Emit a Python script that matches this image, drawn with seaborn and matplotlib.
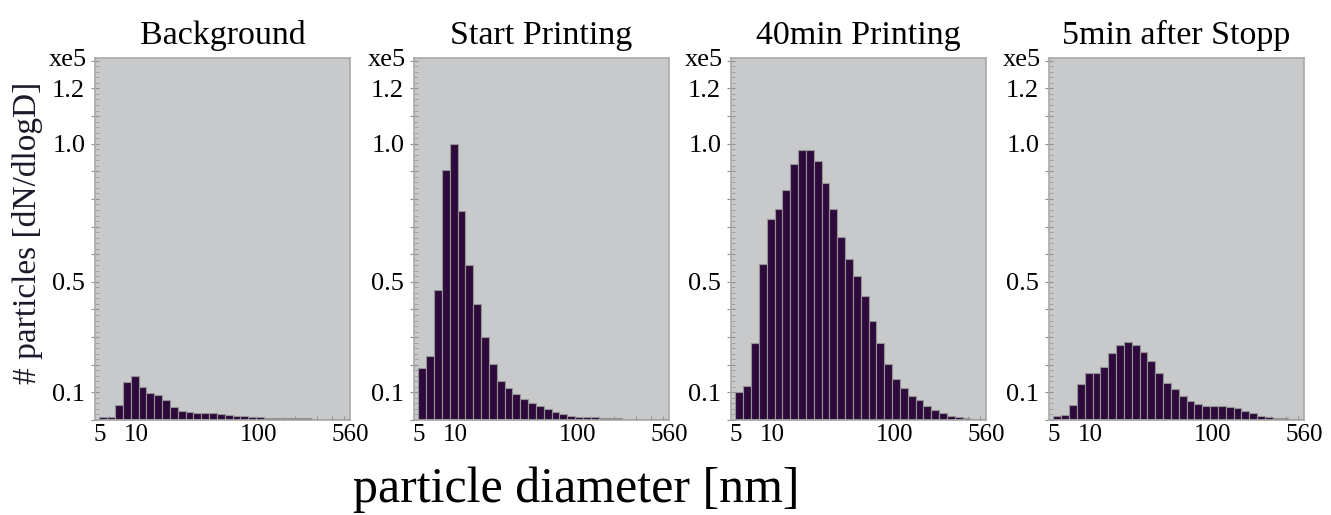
import numpy as np
import matplotlib
matplotlib.use("Agg")
import matplotlib.pyplot as plt
from matplotlib.ticker import FixedLocator, MultipleLocator, FuncFormatter
import seaborn as sns

""" Data read off the SMPS size distributions (x 1e5 particles) """

titles = ["Background", "Start Printing", "40min Printing", "5min after Stopp"]

# 32 log-spaced size channels between 5 and 560 nm
d_low, d_high, n_bins = 5, 560, 32
edges = np.geomspace(d_low, d_high, n_bins + 1)
diameters = np.sqrt(edges[:-1] * edges[1:])  # channel mid points

background = [0.010, 0.012, 0.054, 0.137, 0.159, 0.121, 0.097, 0.089, 0.072, 0.047,
              0.034, 0.029, 0.027, 0.027, 0.026, 0.021, 0.018, 0.014, 0.013, 0.011,
              0.010, 0.009, 0.008, 0.008, 0.007, 0.006, 0.006, 0.005, 0.005, 0.004,
              0.004, 0.004]
start_printing = [0.187, 0.233, 0.472, 0.904, 1.000, 0.755, 0.560, 0.419, 0.299, 0.202,
                  0.142, 0.117, 0.093, 0.075, 0.060, 0.051, 0.040, 0.030, 0.022, 0.016,
                  0.012, 0.010, 0.010, 0.008, 0.007, 0.006, 0.005, 0.005, 0.004, 0.004,
                  0.003, 0.003]
printing_40min = [0.100, 0.124, 0.280, 0.566, 0.727, 0.765, 0.834, 0.928, 0.976, 0.976,
                  0.937, 0.858, 0.765, 0.663, 0.581, 0.520, 0.449, 0.359, 0.280, 0.201,
                  0.148, 0.117, 0.088, 0.072, 0.052, 0.036, 0.024, 0.016, 0.010, 0.006,
                  0.005, 0.004]
after_stop = [0.016, 0.017, 0.054, 0.130, 0.169, 0.169, 0.193, 0.241, 0.271, 0.281,
              0.273, 0.247, 0.213, 0.169, 0.135, 0.112, 0.088, 0.070, 0.058, 0.052,
              0.051, 0.049, 0.047, 0.042, 0.034, 0.024, 0.016, 0.011, 0.007, 0.006,
              0.005, 0.004]
series = [background, start_printing, printing_40min, after_stop]

# faint second trace lying on the baseline
trace_x = [5.5, 40]
trace_y = [0.005, 0.005]

x_ticks = [5, 10, 100, 560]
y_labelled = [0.1, 0.5, 1.0, 1.2]

""" Styling """

sns.set_style("white")
plt.rcParams["font.family"] = ["Liberation Serif", "DejaVu Serif"]
plt.rcParams["text.color"] = "black"
plt.rcParams["xtick.labelcolor"] = "black"
plt.rcParams["ytick.labelcolor"] = "black"

bar_color = "#2e0a3c"
face_color = "#c8c9cb"
spine_color = "#a9a9a9"

fig = plt.figure(figsize=(13.31, 5.15), dpi=100)

lefts = [95, 414, 731, 1049]  # axes left edges in pixels
for left, title, vals in zip(lefts, titles, series):
    ax = fig.add_axes([left / 1331, 95 / 515, 255 / 1331, 362 / 515])
    ax.set_facecolor(face_color)

    sns.histplot(x=diameters, weights=vals, bins=n_bins,
                 binrange=(np.log10(d_low), np.log10(d_high)), log_scale=True,
                 color=bar_color, edgecolor="#949494", linewidth=0.8, alpha=1,
                 ax=ax)
    sns.lineplot(x=trace_x, y=trace_y, color="#a89a50", linewidth=0.8, alpha=0.6,
                 ax=ax)

    ax.set_xlim(4.6, 560)
    ax.set_ylim(0, 1.31)
    ax.set_xlabel("")
    ax.set_ylabel("")
    ax.set_title(title, fontsize=24.5, pad=10, color="black")

    # x axis: log ticks, only a few labelled
    ax.xaxis.set_major_locator(FixedLocator(x_ticks))
    ax.xaxis.set_major_formatter(FuncFormatter(lambda v, p: f"{v:g}"))
    ax.tick_params(axis="x", which="major", labelsize=18, length=0, pad=3)
    ax.tick_params(axis="x", which="minor", direction="in", length=3,
                   color="#8f8f8f", width=0.7)

    # y axis: ticks every 0.1, minor every 0.02, labels at selected values
    ax.yaxis.set_major_locator(MultipleLocator(0.1))
    ax.yaxis.set_minor_locator(MultipleLocator(0.02))
    ax.yaxis.set_major_formatter(FuncFormatter(
        lambda v, p: f"{v:.1f}" if any(abs(v - t) < 1e-6 for t in y_labelled) else ""))
    ax.tick_params(axis="y", which="major", labelsize=19, direction="inout",
                   length=6, color="#8f8f8f", width=0.8, pad=4)
    ax.tick_params(axis="y", which="minor", direction="in", length=3,
                   color="#9a9a9a", width=0.6)
    ax.tick_params(left=True, bottom=True, which="both")

    for spine in ax.spines.values():
        spine.set_color(spine_color)
        spine.set_linewidth(1.2)

    ax.text(-0.03, 0.995, "xe5", transform=ax.transAxes, ha="right", va="center",
            fontsize=19)

fig.text(0.021, 0.547, "# particles [dN/dlogD]", rotation=90, ha="center",
         va="center", fontsize=24, color="#1a1a2a")
fig.text(0.433, 0.049, "particle diameter [nm]", ha="center", va="center",
         fontsize=36)

fig.savefig("out.png", dpi=100)
